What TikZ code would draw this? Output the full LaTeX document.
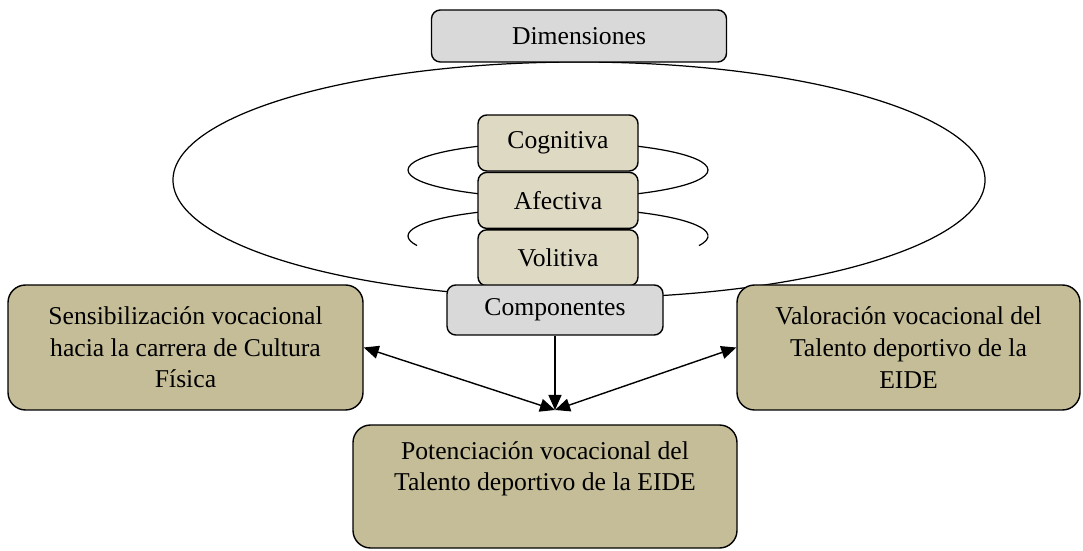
\documentclass[tikz,border=0pt]{standalone}
\usepackage{fontspec}
\setmainfont{Liberation Serif}
\usepackage{xcolor}
\usepackage{tikz}
\usetikzlibrary{arrows.meta, positioning}
\definecolor{tanbox}{HTML}{C4BD97}
\definecolor{tanlight}{HTML}{DDD9C3}
\definecolor{graybox}{HTML}{D9D9D9}
\tikzset{
  headbox/.style={
    draw, rounded corners=5pt, thick, align=center,
    font=\fontsize{14.6}{18}\selectfont, fill=graybox
  },
  dimbox/.style={
    draw, rounded corners=5pt, thick, align=center,
    font=\fontsize{14.6}{18}\selectfont, fill=tanlight,
    minimum width=3.2cm, minimum height=1.12cm
  },
  phasebox/.style={
    draw, rounded corners=10pt, thick, align=center,
    font=\fontsize{14.6}{18}\selectfont, fill=tanbox,
    minimum height=2.5cm
  },
  ringline/.style={line width=0.7pt},
  linkarrow/.style={
    {Triangle[length=3mm, width=2.6mm]}-{Triangle[length=3mm, width=2.6mm]},
    line width=0.8pt
  },
}
\begin{document}
\begin{tikzpicture}
  \useasboundingbox (0,0) rectangle (21.66,11);

  % ---- Dimensiones ----
  \draw[ringline] (11.58,7.4) ellipse [x radius=8.12cm, y radius=2.36cm];
  \node[headbox, minimum width=5.9cm, minimum height=1.04cm] (dim) at (11.58,10.28)
    {Dimensiones};

  % Rings round the stack
  \draw[ringline] (11.16,7.6) ellipse [x radius=3cm, y radius=0.56cm];
  \draw[ringline] (11.16,6.28) ++(-20:3cm and 0.56cm)
    arc [start angle=-20, end angle=200, x radius=3cm, y radius=0.56cm];

  \node[dimbox] (cog) at (11.16,8.14) {Cognitiva};
  \node[dimbox, below=0pt of cog] (afe) {Afectiva};
  \node[dimbox, below=0pt of afe] (vol) {Volitiva};

  % ---- Componentes ----
  \node[headbox, minimum width=4.32cm, minimum height=1cm] (comp) at (11.1,4.8)
    {Componentes};

  \node[phasebox, minimum width=7.1cm] (sens) at (3.71,4.05)
    {Sensibilización vocacional\\hacia la carrera de Cultura\\Física};
  \node[phasebox, minimum width=6.86cm] (valor) at (18.17,4.05)
    {Valoración vocacional del\\Talento deportivo de la\\EIDE};
  \node[phasebox, minimum width=7.68cm, minimum height=2.46cm] (pot) at (10.9,1.27)
    {Potenciación vocacional del\\Talento deportivo de la EIDE\\\strut};

  % Arrows
  \coordinate (meet) at (11.1,2.8);
  \draw[-{Triangle[length=3mm, width=2.6mm]}, line width=0.8pt] (comp) -- (meet);
  \draw[linkarrow] (sens.east) -- (meet);
  \draw[linkarrow] (valor.west) -- (meet);
\end{tikzpicture}
\end{document}
